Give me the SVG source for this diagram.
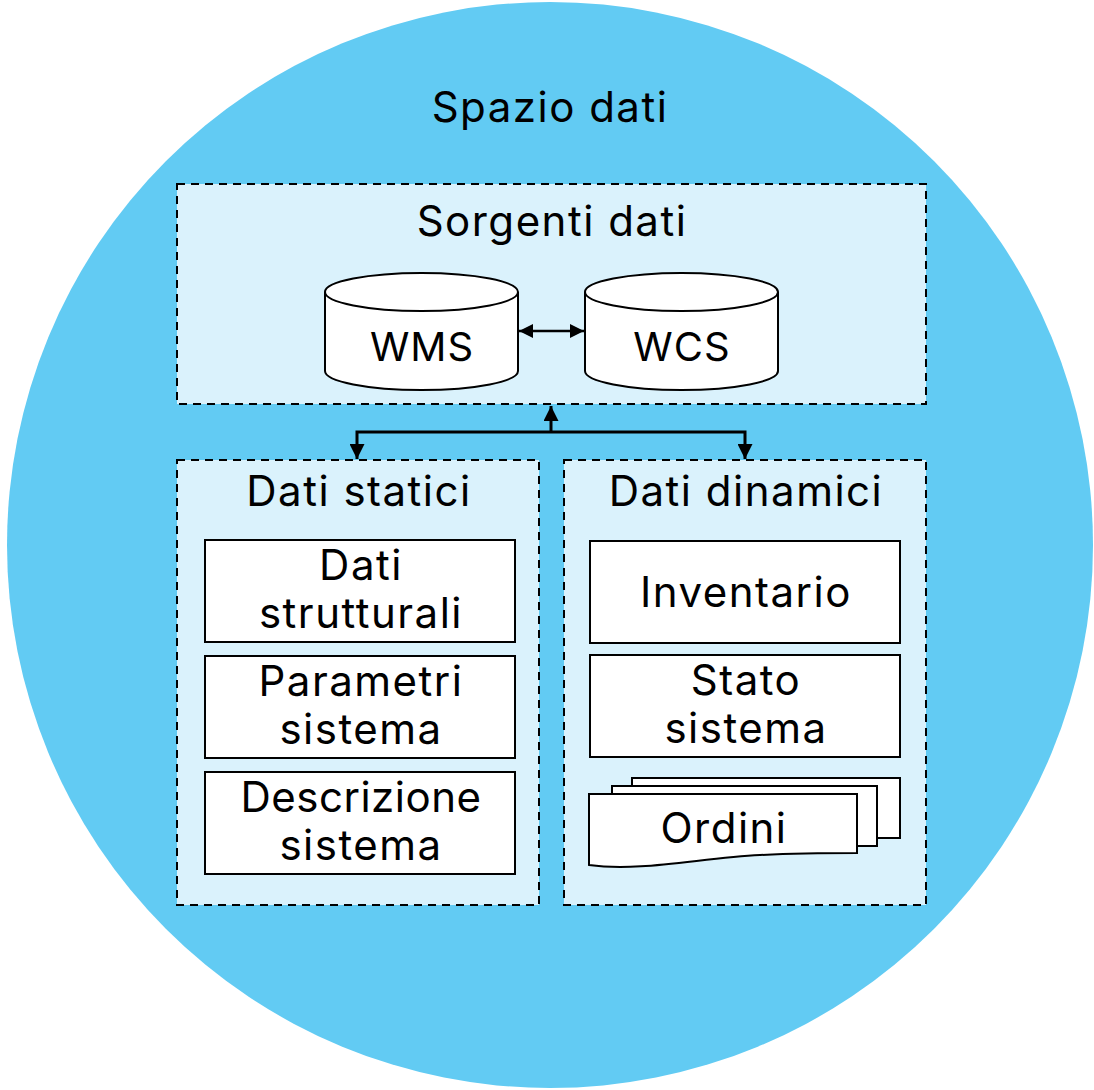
<svg xmlns="http://www.w3.org/2000/svg" width="1094" height="1090" viewBox="0 0 1094 1090">
  <defs>
    <style>
      text { font-family: "Inter", "Open Sans", "Noto Sans", sans-serif; fill: #000; text-anchor: middle; font-size: 42px; letter-spacing: 1.5px; }
      .cyl-label { font-size: 40px; letter-spacing: 1px; }
      .group { fill: #DAF2FC; stroke: #000; stroke-width: 2; stroke-dasharray: 8 6; }
      .box { fill: #FFFFFF; stroke: #000; stroke-width: 2; }
      .link { fill: none; stroke: #000; stroke-width: 3; }
      .link-thin { fill: none; stroke: #000; stroke-width: 2.5; }
    </style>
    <marker id="head" viewBox="0 0 15 15" refX="15" refY="7.5" markerWidth="15" markerHeight="15" markerUnits="userSpaceOnUse" orient="auto-start-reverse">
      <path d="M0,0 L15,7.5 L0,15 Z" fill="#000"/>
    </marker>
    <marker id="head-small" viewBox="0 0 14 14" refX="14" refY="7" markerWidth="14" markerHeight="14" markerUnits="userSpaceOnUse" orient="auto-start-reverse">
      <path d="M0,0 L14,7 L0,14 Z" fill="#000"/>
    </marker>
  </defs>

  <!-- data space background -->
  <g id="spazio-dati">
    <circle cx="550" cy="545" r="543" fill="#62CBF3"/>
    <text x="550" y="122">Spazio dati</text>
  </g>

  <!-- data sources group -->
  <g id="sorgenti-dati">
    <rect class="group" x="177" y="184" width="749" height="220"/>
    <text x="552" y="236">Sorgenti dati</text>
  </g>

  <g id="wms">
    <path class="box" d="M325,292 A96.5,19 0 0 1 518,292 L518,371 A96.5,19 0 0 1 325,371 Z"/>
    <path class="box" fill="none" d="M325,292 A96.5,19 0 0 0 518,292"/>
    <text class="cyl-label" x="422" y="361">WMS</text>
  </g>

  <g id="wcs">
    <path class="box" d="M585,292 A96.5,19 0 0 1 778,292 L778,371 A96.5,19 0 0 1 585,371 Z"/>
    <path class="box" fill="none" d="M585,292 A96.5,19 0 0 0 778,292"/>
    <text class="cyl-label" x="682" y="361">WCS</text>
  </g>

  <!-- static data group -->
  <g id="dati-statici">
    <rect class="group" x="177" y="460" width="362" height="445"/>
    <text x="359" y="506">Dati statici</text>
  </g>

  <g id="dati-strutturali">
    <rect class="box" x="205" y="540" width="310" height="102"/>
    <text x="361" y="580">Dati</text>
    <text x="361" y="628">strutturali</text>
  </g>

  <g id="parametri-sistema">
    <rect class="box" x="205" y="656" width="310" height="102"/>
    <text x="361" y="696">Parametri</text>
    <text x="361" y="744">sistema</text>
  </g>

  <g id="descrizione-sistema">
    <rect class="box" x="205" y="772" width="310" height="102"/>
    <text x="361" y="812" style="letter-spacing:0.5px">Descrizione</text>
    <text x="361" y="860">sistema</text>
  </g>

  <!-- dynamic data group -->
  <g id="dati-dinamici">
    <rect class="group" x="564" y="460" width="362" height="445"/>
    <text x="746" y="506">Dati dinamici</text>
  </g>

  <g id="inventario">
    <rect class="box" x="590" y="541" width="310" height="102"/>
    <text x="746" y="607">Inventario</text>
  </g>

  <g id="stato-sistema">
    <rect class="box" x="590" y="655" width="310" height="102"/>
    <text x="746" y="695">Stato</text>
    <text x="746" y="743">sistema</text>
  </g>

  <g id="ordini">
    <rect class="box" x="632" y="778" width="268" height="60"/>
    <rect class="box" x="612" y="786" width="265" height="60"/>
    <path class="box" d="M589,794 L857,794 L857,853 C830,853 800,853 760,855 C700,858 640,872 589,865 Z"/>
    <text x="724" y="843">Ordini</text>
  </g>

  <!-- connectors -->
  <g id="connectors">
    <path class="link-thin" d="M519,331 L584,331" marker-start="url(#head-small)" marker-end="url(#head-small)"/>
    <path class="link" d="M551,432 L551,406" marker-end="url(#head)"/>
    <path class="link" d="M357,459 L357,432 L745,432 L745,459" marker-start="url(#head)" marker-end="url(#head)"/>
  </g>
</svg>
